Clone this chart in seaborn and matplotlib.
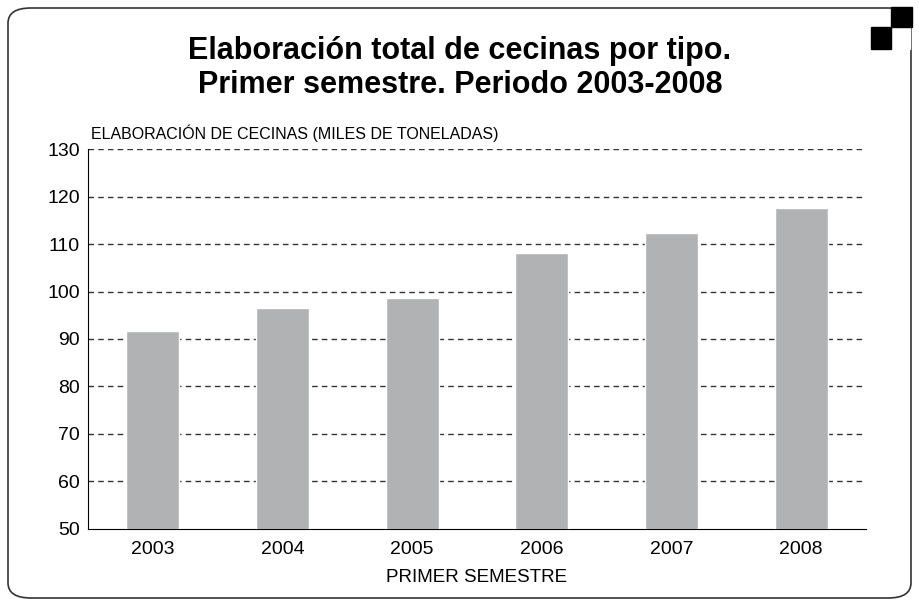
import numpy as np
import matplotlib
matplotlib.use("Agg")
import matplotlib.pyplot as plt
from matplotlib.patches import FancyBboxPatch, Rectangle
import pandas as pd
import seaborn as sns

years = ["2003", "2004", "2005", "2006", "2007", "2008"]
tons = [91.7, 96.5, 98.6, 108.1, 112.3, 117.7]
y_ticks = [50, 60, 70, 80, 90, 100, 110, 120, 130]

title = "Elaboración total de cecinas por tipo.\nPrimer semestre. Periodo 2003-2008"
ylab = "ELABORACIÓN DE CECINAS (MILES DE TONELADAS)"
xlab = "PRIMER SEMESTRE"

sns.set_style("white")
plt.rcParams['font.family'] = ['Liberation Sans Narrow', 'Liberation Sans', 'DejaVu Sans']
plt.rcParams['text.color'] = 'black'
plt.rcParams['xtick.color'] = 'black'
plt.rcParams['ytick.color'] = 'black'

df = pd.DataFrame({"year": years, "tons": tons})

W, H = 919, 606
fig = plt.figure(figsize=(W / 100, H / 100), dpi=100)
ax = fig.add_axes([88 / W, 1 - 528.6 / H, (866 - 88) / W, (528.6 - 149.3) / H])

sns.barplot(data=df, x="year", y="tons", color="#b1b2b4", width=0.41,
            saturation=1, ax=ax, zorder=3)
ax.set_ylim(50, 130)
ax.set_xlim(-0.5, 5.5)
ax.set_yticks(y_ticks)
ax.set_yticklabels([str(v) for v in y_ticks], fontsize=14)
ax.set_xticks(np.arange(6))
ax.set_xticklabels(years, fontsize=14)
ax.tick_params(axis="x", length=0, pad=9)
# small ticks between the categories
ax.set_xticks(np.arange(-0.5, 6.0, 1.0), minor=True)
ax.tick_params(axis="x", which="minor", length=5, width=1, color="black", direction="out")
ax.tick_params(axis="y", length=6, width=1, color="black", direction="inout", pad=3)
for v in y_ticks[1:]:
    ax.axhline(v, color="#333333", lw=1, ls=(0, (4, 3)), zorder=1)
for s in ["top", "right"]:
    ax.spines[s].set_visible(False)
ax.spines["left"].set_color("black")
ax.spines["bottom"].set_color("black")
ax.set_xlabel("")
ax.set_ylabel("")

fig.text(477 / W, 1 - 578 / H, xlab, ha="center", va="center", fontsize=13.5)
fig.text(91 / W, 1 - 133 / H, ylab, ha="left", va="center", fontsize=11.5)
fig.text(460 / W, 1 - 68 / H, title, ha="center", va="center", fontsize=22,
         fontweight="bold", linespacing=1.15)

# rounded frame and corner squares
frame = FancyBboxPatch((8 / W, 8 / H), (903 / W), (590 / H),
                       boxstyle="round,pad=0,rounding_size=0.025",
                       transform=fig.transFigure, fill=False, ec="#333333", lw=1.2)
fig.patches.append(frame)
fig.patches.append(Rectangle((891 / W, 1 - 27 / H), 21 / W, 20 / H,
                             transform=fig.transFigure, color="black", zorder=5))
fig.patches.append(Rectangle((871 / W, 1 - 49 / H), 20 / W, 22 / H,
                             transform=fig.transFigure, color="black", zorder=5))
fig.patches.append(Rectangle((891 / W, 1 - 49 / H), 19 / W, 22 / H,
                             transform=fig.transFigure, color="white", zorder=4))

fig.savefig("out.png", dpi=100)
